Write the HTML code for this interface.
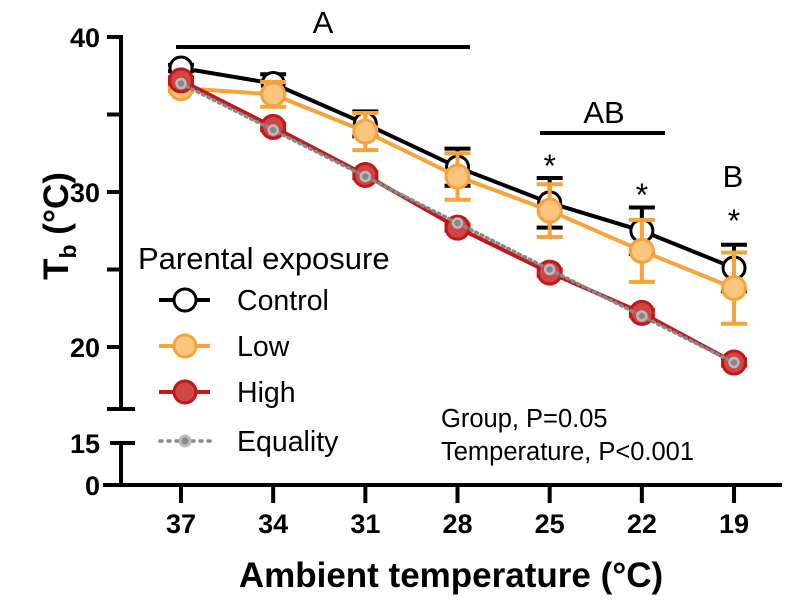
<!DOCTYPE html>
<html><head><meta charset="utf-8"><style>
html,body{margin:0;padding:0;background:#fff;width:797px;height:600px;overflow:hidden}
svg{display:block;font-family:"Liberation Sans",Arial,sans-serif}
</style></head><body>
<svg id="chart" width="797" height="600" viewBox="0 0 797 600" xmlns="http://www.w3.org/2000/svg">
<g id="axes"></g>
<g id="marks"></g>
<g id="annot"></g>
<g id="legend"></g>
</svg>
<script>
const categories = [37, 34, 31, 28, 25, 22, 19];
const controlValues = [38.0, 37.0, 34.4, 31.6, 29.3, 27.5, 25.1];
const controlErr = [0.2, 0.6, 0.8, 1.2, 1.6, 1.5, 1.5];
const lowValues = [36.7, 36.3, 33.9, 31.0, 28.8, 26.2, 23.8];
const lowErr = [0.2, 0.8, 1.2, 1.5, 1.7, 2.0, 2.3];
const highValues = [37.2, 34.2, 31.1, 27.7, 24.8, 22.2, 19.0];
const highErr = [0.2, 0.2, 0.2, 0.2, 0.2, 0.2, 0.2];
const equalityValues = [37, 34, 31, 28, 25, 22, 19];
const upperTicks = [40, 30, 20];
const upperMinorTicks = [35, 25];
const lowerTicks = [15, 0];

const NS = "http://www.w3.org/2000/svg";
function mk(parent, tag, attrs, text) {
  const e = document.createElementNS(NS, tag);
  for (const k in attrs) e.setAttribute(k, attrs[k]);
  if (text !== undefined) e.textContent = text;
  parent.appendChild(e);
  return e;
}
const x0 = 181, xStep = 92.17;
function xPos(i) { return x0 + i * xStep; }
function yPos(v) { return v >= 16 ? 37 + (40 - v) * 15.5 : 485 - v * (42 / 15); }

const axes = document.getElementById('axes');
const marks = document.getElementById('marks');
const annot = document.getElementById('annot');
const legend = document.getElementById('legend');

let e = mk(axes, 'line', {x1:121, y1:yPos(40)-1.5, x2:121, y2:409, stroke:'#000', 'stroke-width':4});


e = mk(axes, 'line', {x1:107, y1:409, x2:135, y2:409, stroke:'#000', 'stroke-width':4});


e = mk(axes, 'line', {x1:121, y1:443, x2:121, y2:485, stroke:'#000', 'stroke-width':4});


upperTicks.concat(upperMinorTicks).forEach(v => {
  const t = mk(axes, 'line', {x1:107, y1:yPos(v), x2:123, y2:yPos(v), stroke:'#000', 'stroke-width':4});
  
  
});
upperTicks.forEach(v => {
  const t = mk(axes, 'text', {x:100, y:yPos(v)+10, 'text-anchor':'end', 'font-size':27, 'font-weight':'bold'}, v);
  
  
});
lowerTicks.forEach(v => {
  const t = mk(axes, 'line', {x1:v===0?103:110, y1:yPos(v), x2:v===0?123:135, y2:yPos(v), stroke:'#000', 'stroke-width':4});
  
  
  const l = mk(axes, 'text', {x:100, y:yPos(v)+10, 'text-anchor':'end', 'font-size':27, 'font-weight':'bold'}, v);
  
  
});
e = mk(axes, 'line', {x1:103, y1:485, x2:782, y2:485, stroke:'#000', 'stroke-width':4});


categories.forEach((c, i) => {
  const t = mk(axes, 'line', {x1:xPos(i), y1:485, x2:xPos(i), y2:503, stroke:'#000', 'stroke-width':4});
  
  
  const l = mk(axes, 'text', {x:xPos(i), y:533, 'text-anchor':'middle', 'font-size':27, 'font-weight':'bold'}, c);
  
  
});
e = mk(axes, 'text', {x:451, y:587, 'text-anchor':'middle', 'font-size':35, 'font-weight':'bold'}, 'Ambient temperature (°C)');


e = mk(axes, 'text', {transform:'translate(68,226) rotate(-90)', 'text-anchor':'middle', 'font-size':35, 'font-weight':'bold'});


mk(e, 'tspan', {}, 'T');
mk(e, 'tspan', {'font-size':23, dy:8}, 'b');
mk(e, 'tspan', {dy:-8}, ' (°C)');

function series(name, vals, errs, color, fill, lw, r) {
  const g = mk(marks, 'g', {});
  
  
  if (errs) vals.forEach((v, i) => {
    const x = xPos(i), t = yPos(v + errs[i]), b = yPos(v - errs[i]);
    const eb = mk(g, 'path', {d:`M${x},${t}V${b}M${x-13},${t}H${x+13}M${x-13},${b}H${x+13}`, stroke:color, 'stroke-width':4, fill:'none'});
    
    
  });
  const ln = mk(g, 'polyline', {points: vals.map((v, i) => xPos(i) + ',' + yPos(v)).join(' '), stroke:color, 'stroke-width':lw, fill:'none'});
  
  
  vals.forEach((v, i) => {
    const c = mk(g, 'circle', {cx:xPos(i), cy:yPos(v), r:r, fill:fill, stroke:color, 'stroke-width':3});
    
    
  });
}
series('control', controlValues, controlErr, '#000', '#fff', 4, 11);
series('low', lowValues, lowErr, '#f7a23b', '#fbc57d', 4, 11.5);
series('high', highValues, highErr, '#c01818', '#d04545', 4, 11.5);
(function(){
  const g = mk(marks, 'g', {});
  
  
  const ln = mk(g, 'polyline', {points: equalityValues.map((v, i) => xPos(i) + ',' + yPos(v)).join(' '), stroke:'#888', 'stroke-width':3.5, 'stroke-dasharray':'2 4', 'stroke-linecap':'round', fill:'none'});
  
  
  equalityValues.forEach((v, i) => {
    const c = mk(g, 'circle', {cx:xPos(i), cy:yPos(v), r:4.5, fill:'#888', stroke:'#bbb', 'stroke-width':2.5});
    
    
  });
})();

function txt(p, x, y, s, size, name, anchor) {
  const t = mk(p, 'text', {x:x, y:y, 'font-size':size, 'text-anchor':anchor||'middle'}, s);
  
  
  return t;
}
e = mk(annot, 'line', {x1:176, y1:47, x2:470, y2:47, stroke:'#000', 'stroke-width':4});


txt(annot, 323, 33, 'A', 31, 'group-a-label');
e = mk(annot, 'line', {x1:540, y1:133, x2:665, y2:133, stroke:'#000', 'stroke-width':4});


txt(annot, 604, 123, 'AB', 31, 'group-ab-label');
txt(annot, 733, 187, 'B', 31, 'group-b-label');
txt(annot, xPos(4), 177, '*', 32, 'significance-star-25');
txt(annot, xPos(5), 206, '*', 32, 'significance-star-22');
txt(annot, xPos(6), 232, '*', 32, 'significance-star-19');
txt(annot, 441, 427, 'Group, P=0.05', 25.5, 'stats-group', 'start');
txt(annot, 441, 460, 'Temperature, P<0.001', 25.5, 'stats-temperature', 'start');

txt(legend, 138, 269, 'Parental exposure', 31, 'legend-title', 'start');
const legendItems = [
  ['control', 'Control', '#000', '#fff', 300],
  ['low', 'Low', '#f7a23b', '#fbc57d', 346],
  ['high', 'High', '#c01818', '#d04545', 392],
];
legendItems.forEach(it => {
  const g = mk(legend, 'g', {});
  
  
  mk(g, 'line', {x1:159, y1:it[4], x2:210, y2:it[4], stroke:it[2], 'stroke-width':4});
  mk(g, 'circle', {cx:185, cy:it[4], r:11, fill:it[3], stroke:it[2], 'stroke-width':3});
  txt(g, 237, it[4] + 10, it[1], 28.5, 'legend-label-' + it[0], 'start');
});
(function(){
  const g = mk(legend, 'g', {});
  
  
  mk(g, 'line', {x1:160, y1:441, x2:210, y2:441, stroke:'#888', 'stroke-width':3.5, 'stroke-dasharray':'2 6', 'stroke-linecap':'round'});
  mk(g, 'circle', {cx:185, cy:441, r:5, fill:'#888', stroke:'#bbb', 'stroke-width':3});
  txt(g, 237, 451, 'Equality', 28.5, 'legend-label-equality', 'start');
})();
</script>
</body></html>
